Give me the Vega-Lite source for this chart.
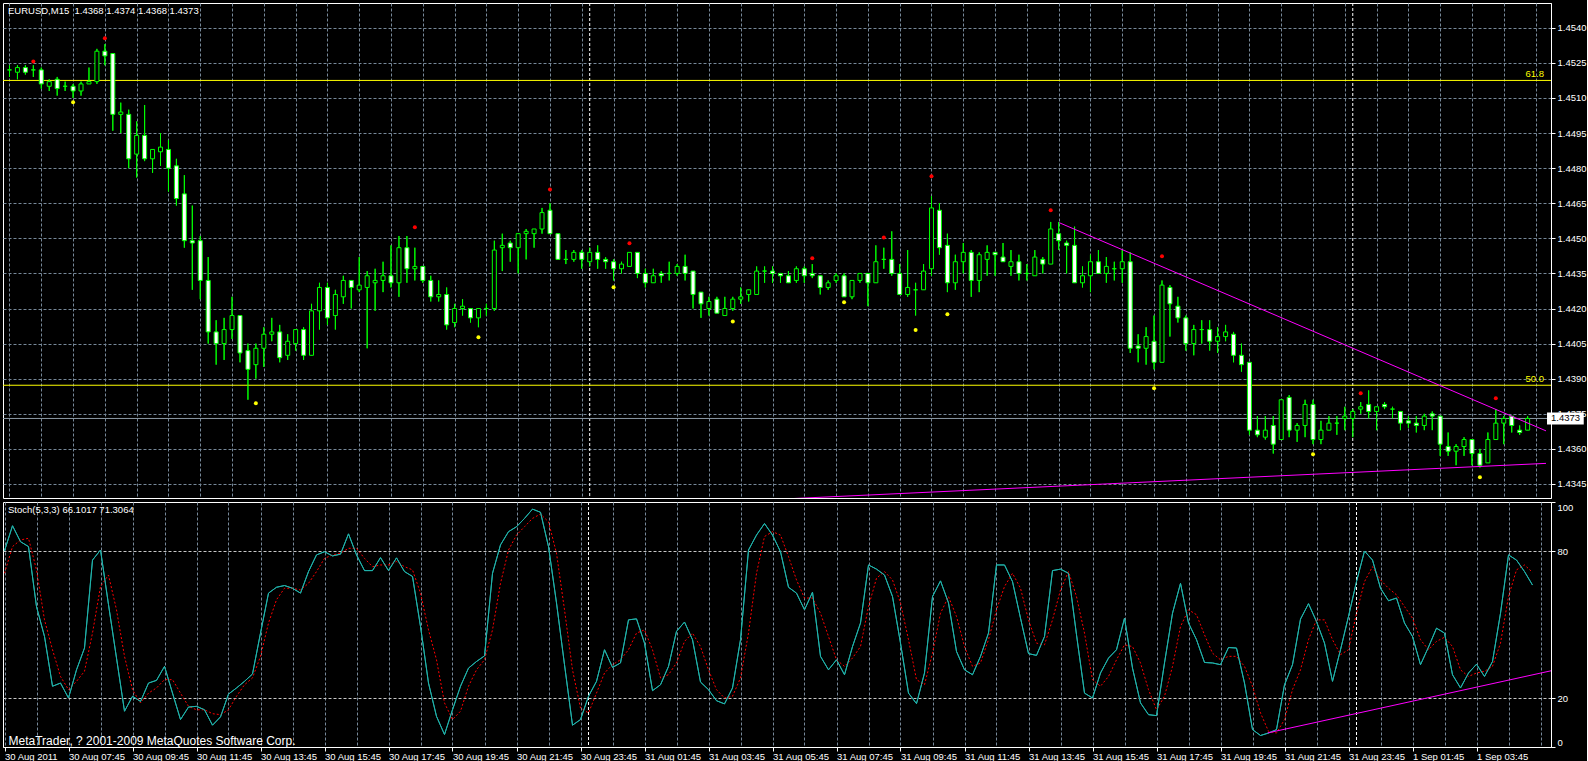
{
  "$schema": "https://vega.github.io/schema/vega-lite/v6.json",
  "background": "#000000",
  "padding": {"left": 2, "top": 2, "right": 0, "bottom": 0},
  "spacing": 2,
  "config": {
    "view": {"stroke": "#ffffff", "strokeWidth": 1},
    "font": "Liberation Sans",
    "axis": {"labelFont": "Liberation Sans", "labelFontSize": 9.5, "labelColor": "#ffffff", "tickColor": "#ffffff", "domainColor": "#ffffff", "titleColor": "#ffffff", "labelOverlap": false}
  },
  "datasets": {
    "seps": [{"i": 73}, {"i": 169}],
    "fib": [{"level": "61.8", "p": 1.45175}, {"level": "50.0", "p": 1.43872}],
    "last": [{"p": 1.4373, "label": "1.4373"}],
    "trend": [
      {"line": "a", "i": 132.06, "p": 1.44567}, {"line": "a", "i": 193.3125, "p": 1.43677},
      {"line": "b", "i": 95, "p": 1.43382}, {"line": "b", "i": 193.3125, "p": 1.43538}
    ],
    "stochTrend": [{"i": 157.9, "v": 5.74}, {"i": 193.3125, "v": 31.1}],
    "fractals": [
      {"kind": "up", "i": 3, "p": 1.45256}, {"kind": "up", "i": 12, "p": 1.45355}, {"kind": "up", "i": 51, "p": 1.44547},
      {"kind": "up", "i": 68, "p": 1.44709}, {"kind": "up", "i": 78, "p": 1.44479}, {"kind": "up", "i": 101, "p": 1.44415},
      {"kind": "up", "i": 110, "p": 1.44504}, {"kind": "up", "i": 116, "p": 1.44765}, {"kind": "up", "i": 131, "p": 1.4462},
      {"kind": "up", "i": 145, "p": 1.44423}, {"kind": "up", "i": 170, "p": 1.43838}, {"kind": "up", "i": 187, "p": 1.43816},
      {"kind": "down", "i": 8, "p": 1.45082}, {"kind": "down", "i": 31, "p": 1.43795}, {"kind": "down", "i": 59, "p": 1.44077},
      {"kind": "down", "i": 76, "p": 1.44291}, {"kind": "down", "i": 91, "p": 1.44145}, {"kind": "down", "i": 105, "p": 1.44227},
      {"kind": "down", "i": 114, "p": 1.44108}, {"kind": "down", "i": 118, "p": 1.44175}, {"kind": "down", "i": 144, "p": 1.43859},
      {"kind": "down", "i": 164, "p": 1.43577}, {"kind": "down", "i": 185, "p": 1.43479}
    ],
    "bars": [
      {"i":0,"o":1.4522,"h":1.4524,"l":1.4519,"c":1.4522,"k":80.1,"d":70.9},
      {"i":1,"o":1.4521,"h":1.4524,"l":1.4518,"c":1.4523,"k":90.3,"d":81.8},
      {"i":2,"o":1.4523,"h":1.4524,"l":1.4520,"c":1.4521,"k":83.8,"d":84.5},
      {"i":3,"o":1.4522,"h":1.4524,"l":1.4519,"c":1.4522,"k":81.8,"d":85.2},
      {"i":4,"o":1.4522,"h":1.4523,"l":1.4514,"c":1.4516,"k":57.3,"d":72.3},
      {"i":5,"o":1.4515,"h":1.4518,"l":1.4513,"c":1.4517,"k":45.1,"d":51.9},
      {"i":6,"o":1.4518,"h":1.4519,"l":1.4511,"c":1.4514,"k":24.8,"d":39.7},
      {"i":7,"o":1.4515,"h":1.4517,"l":1.4513,"c":1.4515,"k":26.1,"d":28.8},
      {"i":8,"o":1.4515,"h":1.4516,"l":1.4510,"c":1.4513,"k":20.0,"d":23.4},
      {"i":9,"o":1.4513,"h":1.4517,"l":1.4511,"c":1.4516,"k":31.5,"d":26.8},
      {"i":10,"o":1.4516,"h":1.4523,"l":1.4516,"c":1.4517,"k":40.4,"d":30.9},
      {"i":11,"o":1.4517,"h":1.4531,"l":1.4516,"c":1.4530,"k":76.3,"d":46.5},
      {"i":12,"o":1.4530,"h":1.4533,"l":1.4524,"c":1.4528,"k":80.4,"d":65.5},
      {"i":13,"o":1.4529,"h":1.4529,"l":1.4496,"c":1.4503,"k":58.1,"d":70.2},
      {"i":14,"o":1.4503,"h":1.4508,"l":1.4495,"c":1.4504,"k":36.3,"d":56.0},
      {"i":15,"o":1.4503,"h":1.4505,"l":1.4480,"c":1.4484,"k":14.6,"d":37.0},
      {"i":16,"o":1.4486,"h":1.4500,"l":1.4476,"c":1.4494,"k":20.7,"d":23.4},
      {"i":17,"o":1.4494,"h":1.4507,"l":1.4483,"c":1.4484,"k":18.6,"d":18.0},
      {"i":18,"o":1.4484,"h":1.4488,"l":1.4478,"c":1.4488,"k":26.1,"d":22.0},
      {"i":19,"o":1.4487,"h":1.4495,"l":1.4481,"c":1.4489,"k":27.2,"d":24.1},
      {"i":20,"o":1.4488,"h":1.4492,"l":1.4470,"c":1.4480,"k":32.9,"d":27.5},
      {"i":21,"o":1.4481,"h":1.4484,"l":1.4464,"c":1.4467,"k":22.0,"d":27.5},
      {"i":22,"o":1.4469,"h":1.4477,"l":1.4446,"c":1.4449,"k":11.2,"d":22.0},
      {"i":23,"o":1.4449,"h":1.4464,"l":1.4428,"c":1.4448,"k":16.3,"d":16.6},
      {"i":24,"o":1.4449,"h":1.4451,"l":1.4424,"c":1.4432,"k":16.6,"d":15.2},
      {"i":25,"o":1.4432,"h":1.4442,"l":1.4405,"c":1.4410,"k":15.2,"d":15.2},
      {"i":26,"o":1.4410,"h":1.4415,"l":1.4396,"c":1.4405,"k":8.9,"d":13.6},
      {"i":27,"o":1.4405,"h":1.4416,"l":1.4398,"c":1.4411,"k":12.3,"d":13.2},
      {"i":28,"o":1.4411,"h":1.4425,"l":1.4407,"c":1.4417,"k":21.6,"d":15.2},
      {"i":29,"o":1.4417,"h":1.4417,"l":1.4397,"c":1.4401,"k":24.1,"d":20.7},
      {"i":30,"o":1.4402,"h":1.4405,"l":1.4381,"c":1.4394,"k":26.8,"d":25.4},
      {"i":31,"o":1.4396,"h":1.4405,"l":1.4390,"c":1.4403,"k":29.8,"d":28.2},
      {"i":32,"o":1.4403,"h":1.4412,"l":1.4395,"c":1.4409,"k":46.5,"d":37.0},
      {"i":33,"o":1.4409,"h":1.4416,"l":1.4406,"c":1.4410,"k":62.8,"d":50.6},
      {"i":34,"o":1.4410,"h":1.4413,"l":1.4397,"c":1.4399,"k":65.2,"d":60.1},
      {"i":35,"o":1.4400,"h":1.4409,"l":1.4398,"c":1.4406,"k":65.9,"d":64.8},
      {"i":36,"o":1.4405,"h":1.4411,"l":1.4402,"c":1.4411,"k":64.8,"d":64.8},
      {"i":37,"o":1.4411,"h":1.4412,"l":1.4398,"c":1.4400,"k":62.8,"d":64.1},
      {"i":38,"o":1.4400,"h":1.4422,"l":1.4400,"c":1.4419,"k":71.6,"d":66.8},
      {"i":39,"o":1.4419,"h":1.4431,"l":1.4411,"c":1.4429,"k":78.4,"d":71.6},
      {"i":40,"o":1.4429,"h":1.4431,"l":1.4413,"c":1.4416,"k":79.7,"d":77.0},
      {"i":41,"o":1.4417,"h":1.4428,"l":1.4411,"c":1.4426,"k":78.0,"d":78.4},
      {"i":42,"o":1.4425,"h":1.4434,"l":1.4422,"c":1.4432,"k":78.7,"d":79.1},
      {"i":43,"o":1.4432,"h":1.4432,"l":1.4420,"c":1.4429,"k":87.0,"d":81.1},
      {"i":44,"o":1.4428,"h":1.4442,"l":1.4427,"c":1.4430,"k":78.4,"d":81.1},
      {"i":45,"o":1.4429,"h":1.4436,"l":1.4403,"c":1.4434,"k":72.0,"d":77.0},
      {"i":46,"o":1.4431,"h":1.4437,"l":1.4419,"c":1.4432,"k":72.0,"d":73.6},
      {"i":47,"o":1.4432,"h":1.4440,"l":1.4427,"c":1.4434,"k":77.3,"d":74.3},
      {"i":48,"o":1.4434,"h":1.4447,"l":1.4429,"c":1.4431,"k":72.0,"d":74.3},
      {"i":49,"o":1.4431,"h":1.4451,"l":1.4425,"c":1.4446,"k":77.2,"d":75.7},
      {"i":50,"o":1.4446,"h":1.4451,"l":1.4431,"c":1.4437,"k":71.6,"d":73.6},
      {"i":51,"o":1.4437,"h":1.4446,"l":1.4432,"c":1.4438,"k":69.6,"d":72.3},
      {"i":52,"o":1.4438,"h":1.4438,"l":1.4431,"c":1.4432,"k":49.2,"d":62.8},
      {"i":53,"o":1.4432,"h":1.4434,"l":1.4423,"c":1.4425,"k":26.1,"d":47.8},
      {"i":54,"o":1.4425,"h":1.4432,"l":1.4423,"c":1.4426,"k":12.5,"d":35.6},
      {"i":55,"o":1.4426,"h":1.4429,"l":1.4411,"c":1.4413,"k":5.1,"d":18.0},
      {"i":56,"o":1.4414,"h":1.4422,"l":1.4412,"c":1.4420,"k":15.2,"d":11.2},
      {"i":57,"o":1.4420,"h":1.4424,"l":1.4417,"c":1.4421,"k":24.8,"d":14.6},
      {"i":58,"o":1.4420,"h":1.4420,"l":1.4414,"c":1.4416,"k":32.2,"d":24.8},
      {"i":59,"o":1.4416,"h":1.4420,"l":1.4412,"c":1.4420,"k":34.9,"d":31.5},
      {"i":60,"o":1.4420,"h":1.4422,"l":1.4417,"c":1.4420,"k":37.2,"d":35.6},
      {"i":61,"o":1.4420,"h":1.4449,"l":1.4419,"c":1.4445,"k":70.9,"d":47.8},
      {"i":62,"o":1.4446,"h":1.4452,"l":1.4436,"c":1.4447,"k":82.5,"d":66.8},
      {"i":63,"o":1.4448,"h":1.4449,"l":1.4440,"c":1.4446,"k":87.9,"d":80.4},
      {"i":64,"o":1.4446,"h":1.4452,"l":1.4435,"c":1.4452,"k":89.9,"d":86.5},
      {"i":65,"o":1.4452,"h":1.4454,"l":1.4441,"c":1.4453,"k":93.3,"d":89.9},
      {"i":66,"o":1.4452,"h":1.4454,"l":1.4446,"c":1.4454,"k":97.1,"d":93.3},
      {"i":67,"o":1.4454,"h":1.4463,"l":1.4452,"c":1.4461,"k":95.8,"d":95.1},
      {"i":68,"o":1.4462,"h":1.4465,"l":1.4452,"c":1.4452,"k":81.8,"d":91.9},
      {"i":69,"o":1.4452,"h":1.4452,"l":1.4441,"c":1.4441,"k":58.8,"d":79.1},
      {"i":70,"o":1.4441,"h":1.4445,"l":1.4439,"c":1.4441,"k":33.6,"d":56.0},
      {"i":71,"o":1.4441,"h":1.4445,"l":1.4440,"c":1.4444,"k":8.9,"d":31.5},
      {"i":72,"o":1.4444,"h":1.4445,"l":1.4437,"c":1.4441,"k":11.2,"d":15.9},
      {"i":73,"o":1.4440,"h":1.4446,"l":1.4438,"c":1.4444,"k":20.7,"d":13.9},
      {"i":74,"o":1.4444,"h":1.4447,"l":1.4437,"c":1.4441,"k":26.8,"d":22.0},
      {"i":75,"o":1.4441,"h":1.4442,"l":1.4437,"c":1.4440,"k":39.7,"d":30.2},
      {"i":76,"o":1.4440,"h":1.4441,"l":1.4432,"c":1.4437,"k":32.5,"d":33.6},
      {"i":77,"o":1.4437,"h":1.4440,"l":1.4435,"c":1.4439,"k":34.3,"d":35.6},
      {"i":78,"o":1.4438,"h":1.4444,"l":1.4438,"c":1.4444,"k":51.9,"d":39.7},
      {"i":79,"o":1.4444,"h":1.4444,"l":1.4433,"c":1.4435,"k":52.3,"d":46.5},
      {"i":80,"o":1.4435,"h":1.4437,"l":1.4429,"c":1.4431,"k":42.4,"d":47.8},
      {"i":81,"o":1.4431,"h":1.4437,"l":1.4431,"c":1.4434,"k":23.0,"d":39.7},
      {"i":82,"o":1.4435,"h":1.4436,"l":1.4431,"c":1.4434,"k":25.4,"d":28.2},
      {"i":83,"o":1.4435,"h":1.4440,"l":1.4432,"c":1.4435,"k":32.9,"d":29.5},
      {"i":84,"o":1.4435,"h":1.4439,"l":1.4434,"c":1.4438,"k":47.2,"d":34.3},
      {"i":85,"o":1.4438,"h":1.4443,"l":1.4432,"c":1.4435,"k":51.0,"d":43.1},
      {"i":86,"o":1.4436,"h":1.4436,"l":1.4420,"c":1.4426,"k":43.8,"d":46.5},
      {"i":87,"o":1.4427,"h":1.4427,"l":1.4416,"c":1.4422,"k":26.5,"d":41.0},
      {"i":88,"o":1.4420,"h":1.4425,"l":1.4417,"c":1.4423,"k":23.4,"d":31.5},
      {"i":89,"o":1.4424,"h":1.4425,"l":1.4418,"c":1.4418,"k":18.9,"d":23.4},
      {"i":90,"o":1.4417,"h":1.4425,"l":1.4417,"c":1.4420,"k":17.6,"d":20.0},
      {"i":91,"o":1.4420,"h":1.4425,"l":1.4419,"c":1.4424,"k":24.1,"d":20.7},
      {"i":92,"o":1.4424,"h":1.4429,"l":1.4422,"c":1.4425,"k":43.8,"d":28.2},
      {"i":93,"o":1.4426,"h":1.4428,"l":1.4423,"c":1.4428,"k":80.4,"d":46.5},
      {"i":94,"o":1.4426,"h":1.4438,"l":1.4426,"c":1.4436,"k":86.5,"d":70.9},
      {"i":95,"o":1.4436,"h":1.4438,"l":1.4431,"c":1.4436,"k":91.2,"d":85.9},
      {"i":96,"o":1.4436,"h":1.4438,"l":1.4431,"c":1.4435,"k":86.5,"d":87.9},
      {"i":97,"o":1.4435,"h":1.4435,"l":1.4431,"c":1.4434,"k":79.7,"d":86.5},
      {"i":98,"o":1.4434,"h":1.4436,"l":1.4431,"c":1.4431,"k":65.2,"d":77.7},
      {"i":99,"o":1.4432,"h":1.4438,"l":1.4431,"c":1.4437,"k":62.8,"d":68.2},
      {"i":100,"o":1.4437,"h":1.4438,"l":1.4431,"c":1.4434,"k":56.0,"d":60.8},
      {"i":101,"o":1.4435,"h":1.4439,"l":1.4433,"c":1.4434,"k":63.2,"d":60.8},
      {"i":102,"o":1.4434,"h":1.4434,"l":1.4426,"c":1.4429,"k":37.0,"d":54.6},
      {"i":103,"o":1.4429,"h":1.4432,"l":1.4428,"c":1.4431,"k":31.5,"d":45.1},
      {"i":104,"o":1.4432,"h":1.4435,"l":1.4431,"c":1.4434,"k":35.6,"d":35.6},
      {"i":105,"o":1.4434,"h":1.4435,"l":1.4425,"c":1.4425,"k":29.5,"d":32.9},
      {"i":106,"o":1.4425,"h":1.4432,"l":1.4424,"c":1.4432,"k":41.0,"d":36.3},
      {"i":107,"o":1.4432,"h":1.4435,"l":1.4431,"c":1.4435,"k":50.6,"d":41.0},
      {"i":108,"o":1.4435,"h":1.4435,"l":1.4421,"c":1.4431,"k":74.3,"d":57.3},
      {"i":109,"o":1.4431,"h":1.4447,"l":1.4431,"c":1.4440,"k":72.6,"d":68.9},
      {"i":110,"o":1.4441,"h":1.4446,"l":1.4437,"c":1.4441,"k":70.2,"d":71.6},
      {"i":111,"o":1.4441,"h":1.4453,"l":1.4434,"c":1.4435,"k":61.4,"d":68.2},
      {"i":112,"o":1.4435,"h":1.4439,"l":1.4426,"c":1.4426,"k":42.4,"d":58.8},
      {"i":113,"o":1.4426,"h":1.4445,"l":1.4425,"c":1.4429,"k":22.0,"d":43.8},
      {"i":114,"o":1.4428,"h":1.4431,"l":1.4417,"c":1.4428,"k":17.7,"d":27.5},
      {"i":115,"o":1.4428,"h":1.4439,"l":1.4428,"c":1.4436,"k":30.2,"d":25.4},
      {"i":116,"o":1.4437,"h":1.4468,"l":1.4434,"c":1.4463,"k":61.4,"d":38.3},
      {"i":117,"o":1.4462,"h":1.4465,"l":1.4443,"c":1.4446,"k":67.8,"d":54.6},
      {"i":118,"o":1.4447,"h":1.4452,"l":1.4427,"c":1.4431,"k":58.8,"d":61.4},
      {"i":119,"o":1.4431,"h":1.4443,"l":1.4428,"c":1.4440,"k":39.0,"d":53.3},
      {"i":120,"o":1.4440,"h":1.4448,"l":1.4435,"c":1.4444,"k":31.5,"d":41.0},
      {"i":121,"o":1.4444,"h":1.4445,"l":1.4425,"c":1.4432,"k":29.5,"d":32.9},
      {"i":122,"o":1.4432,"h":1.4444,"l":1.4427,"c":1.4443,"k":37.0,"d":34.3},
      {"i":123,"o":1.4441,"h":1.4447,"l":1.4434,"c":1.4444,"k":46.5,"d":43.8},
      {"i":124,"o":1.4444,"h":1.4444,"l":1.4434,"c":1.4443,"k":74.3,"d":56.0},
      {"i":125,"o":1.4442,"h":1.4448,"l":1.4440,"c":1.4440,"k":74.3,"d":65.5},
      {"i":126,"o":1.4438,"h":1.4445,"l":1.4434,"c":1.4440,"k":67.5,"d":70.9},
      {"i":127,"o":1.4440,"h":1.4443,"l":1.4432,"c":1.4435,"k":52.6,"d":64.8},
      {"i":128,"o":1.4435,"h":1.4439,"l":1.4432,"c":1.4435,"k":38.1,"d":51.9},
      {"i":129,"o":1.4434,"h":1.4445,"l":1.4434,"c":1.4442,"k":37.4,"d":42.4},
      {"i":130,"o":1.4441,"h":1.4442,"l":1.4435,"c":1.4439,"k":45.1,"d":41.7},
      {"i":131,"o":1.4439,"h":1.4457,"l":1.4439,"c":1.4454,"k":72.0,"d":51.9},
      {"i":132,"o":1.4452,"h":1.4457,"l":1.4445,"c":1.4449,"k":72.6,"d":64.1},
      {"i":133,"o":1.4448,"h":1.4449,"l":1.4435,"c":1.4447,"k":70.9,"d":71.6},
      {"i":134,"o":1.4447,"h":1.4455,"l":1.4431,"c":1.4431,"k":45.8,"d":61.4},
      {"i":135,"o":1.4431,"h":1.4438,"l":1.4429,"c":1.4434,"k":22.0,"d":46.5},
      {"i":136,"o":1.4434,"h":1.4443,"l":1.4427,"c":1.4440,"k":20.0,"d":27.5},
      {"i":137,"o":1.4440,"h":1.4445,"l":1.4435,"c":1.4435,"k":30.2,"d":24.8},
      {"i":138,"o":1.4435,"h":1.4442,"l":1.4431,"c":1.4438,"k":36.3,"d":28.8},
      {"i":139,"o":1.4437,"h":1.4440,"l":1.4432,"c":1.4437,"k":39.7,"d":35.6},
      {"i":140,"o":1.4437,"h":1.4445,"l":1.4431,"c":1.4440,"k":52.6,"d":41.7},
      {"i":141,"o":1.4440,"h":1.4444,"l":1.4401,"c":1.4403,"k":32.2,"d":41.0},
      {"i":142,"o":1.4404,"h":1.4409,"l":1.4397,"c":1.4403,"k":18.0,"d":34.3},
      {"i":143,"o":1.4403,"h":1.4412,"l":1.4396,"c":1.4408,"k":13.2,"d":23.4},
      {"i":144,"o":1.4406,"h":1.4417,"l":1.4394,"c":1.4397,"k":12.8,"d":15.2},
      {"i":145,"o":1.4397,"h":1.4432,"l":1.4397,"c":1.4430,"k":34.3,"d":20.7},
      {"i":146,"o":1.4429,"h":1.4430,"l":1.4408,"c":1.4422,"k":54.6,"d":32.9},
      {"i":147,"o":1.4421,"h":1.4425,"l":1.4414,"c":1.4416,"k":66.8,"d":49.2},
      {"i":148,"o":1.4416,"h":1.4417,"l":1.4402,"c":1.4405,"k":50.6,"d":56.0},
      {"i":149,"o":1.4405,"h":1.4413,"l":1.4400,"c":1.4411,"k":43.8,"d":54.0},
      {"i":150,"o":1.4411,"h":1.4415,"l":1.4405,"c":1.4411,"k":34.5,"d":45.8},
      {"i":151,"o":1.4411,"h":1.4415,"l":1.4402,"c":1.4406,"k":34.3,"d":38.3},
      {"i":152,"o":1.4406,"h":1.4412,"l":1.4401,"c":1.4408,"k":33.6,"d":35.6},
      {"i":153,"o":1.4408,"h":1.4413,"l":1.4406,"c":1.4410,"k":40.6,"d":37.0},
      {"i":154,"o":1.4409,"h":1.4410,"l":1.4397,"c":1.4400,"k":40.4,"d":37.0},
      {"i":155,"o":1.4400,"h":1.4405,"l":1.4393,"c":1.4396,"k":26.1,"d":32.9},
      {"i":156,"o":1.4397,"h":1.4397,"l":1.4366,"c":1.4368,"k":7.1,"d":24.8},
      {"i":157,"o":1.4368,"h":1.4374,"l":1.4365,"c":1.4366,"k":4.7,"d":13.9},
      {"i":158,"o":1.4365,"h":1.4374,"l":1.4364,"c":1.4368,"k":5.7,"d":6.4},
      {"i":159,"o":1.4370,"h":1.4374,"l":1.4358,"c":1.4362,"k":7.1,"d":5.7},
      {"i":160,"o":1.4364,"h":1.4381,"l":1.4364,"c":1.4381,"k":25.4,"d":11.2},
      {"i":161,"o":1.4382,"h":1.4383,"l":1.4365,"c":1.4368,"k":33.6,"d":23.4},
      {"i":162,"o":1.4368,"h":1.4371,"l":1.4363,"c":1.4370,"k":52.2,"d":31.5},
      {"i":163,"o":1.4370,"h":1.4381,"l":1.4365,"c":1.4379,"k":58.5,"d":43.8},
      {"i":164,"o":1.4379,"h":1.4381,"l":1.4362,"c":1.4364,"k":51.2,"d":51.9},
      {"i":165,"o":1.4364,"h":1.4372,"l":1.4362,"c":1.4368,"k":42.4,"d":51.9},
      {"i":166,"o":1.4368,"h":1.4374,"l":1.4368,"c":1.4371,"k":26.8,"d":43.8},
      {"i":167,"o":1.4371,"h":1.4374,"l":1.4366,"c":1.4371,"k":39.7,"d":37.7},
      {"i":168,"o":1.4373,"h":1.4378,"l":1.4368,"c":1.4374,"k":53.3,"d":39.7},
      {"i":169,"o":1.4373,"h":1.4377,"l":1.4365,"c":1.4376,"k":67.5,"d":54.6},
      {"i":170,"o":1.4377,"h":1.4380,"l":1.4375,"c":1.4378,"k":80.0,"d":67.5},
      {"i":171,"o":1.4379,"h":1.4385,"l":1.4373,"c":1.4376,"k":76.3,"d":73.6},
      {"i":172,"o":1.4376,"h":1.4378,"l":1.4368,"c":1.4378,"k":64.8,"d":68.2},
      {"i":173,"o":1.4379,"h":1.4380,"l":1.4377,"c":1.4378,"k":59.7,"d":64.8},
      {"i":174,"o":1.4377,"h":1.4378,"l":1.4373,"c":1.4377,"k":60.8,"d":62.1},
      {"i":175,"o":1.4376,"h":1.4376,"l":1.4368,"c":1.4371,"k":50.6,"d":57.3},
      {"i":176,"o":1.4372,"h":1.4374,"l":1.4369,"c":1.4371,"k":45.1,"d":52.6},
      {"i":177,"o":1.4371,"h":1.4374,"l":1.4367,"c":1.4370,"k":33.6,"d":43.8},
      {"i":178,"o":1.4370,"h":1.4375,"l":1.4368,"c":1.4374,"k":40.8,"d":39.7},
      {"i":179,"o":1.4375,"h":1.4376,"l":1.4368,"c":1.4374,"k":48.5,"d":43.1},
      {"i":180,"o":1.4374,"h":1.4374,"l":1.4357,"c":1.4362,"k":46.5,"d":44.8},
      {"i":181,"o":1.4361,"h":1.4367,"l":1.4357,"c":1.4359,"k":29.5,"d":41.0},
      {"i":182,"o":1.4359,"h":1.4362,"l":1.4353,"c":1.4361,"k":24.1,"d":31.5},
      {"i":183,"o":1.4361,"h":1.4365,"l":1.4357,"c":1.4364,"k":30.2,"d":28.8},
      {"i":184,"o":1.4364,"h":1.4364,"l":1.4353,"c":1.4358,"k":33.8,"d":30.2},
      {"i":185,"o":1.4358,"h":1.4360,"l":1.4352,"c":1.4353,"k":28.8,"d":30.9},
      {"i":186,"o":1.4354,"h":1.4367,"l":1.4354,"c":1.4364,"k":34.9,"d":32.9},
      {"i":187,"o":1.4364,"h":1.4377,"l":1.4364,"c":1.4371,"k":54.6,"d":42.4},
      {"i":188,"o":1.4371,"h":1.4374,"l":1.4362,"c":1.4373,"k":78.4,"d":61.4},
      {"i":189,"o":1.4374,"h":1.4374,"l":1.4367,"c":1.4370,"k":76.3,"d":72.3},
      {"i":190,"o":1.4368,"h":1.4370,"l":1.4366,"c":1.4367,"k":71.6,"d":74.3},
      {"i":191,"o":1.4368,"h":1.4374,"l":1.4368,"c":1.4373,"k":66.1,"d":71.3}
    ]
  },
  "vconcat": [
    {
      "width": 1548,
      "height": 495,
      "title": {"text": "EURUSD,M15\u00a0 1.4368 1.4374 1.4368 1.4373", "anchor": "start", "frame": "group", "offset": -13, "dx": 5, "fontSize": 9.5, "fontWeight": "normal", "color": "#ffffff", "font": "Liberation Sans"},
      "layer": [
        {
          "data": {"name": "bars"},
          "mark": {"type": "rule", "color": "#00ff00", "strokeWidth": 1},
          "encoding": {
            "x": {"field": "i", "type": "quantitative", "scale": {"domain": [-0.1875, 193.3125], "nice": false, "zero": false},
              "axis": {"values": [0,4,8,12,16,20,24,28,32,36,40,44,48,52,56,60,64,68,72,76,80,84,88,92,96,100,104,108,112,116,120,124,128,132,136,140,144,148,152,156,160,164,168,172,176,180,184,188,192], "tickCount": 200, "grid": true, "gridColor": "#778899", "gridDash": [3, 2], "labels": false, "ticks": false, "domain": false, "title": null}},
            "y": {"field": "l", "type": "quantitative", "scale": {"domain": [1.4339, 1.45506], "nice": false, "zero": false},
              "axis": {"orient": "right", "values": [1.4345, 1.436, 1.4375, 1.439, 1.4405, 1.442, 1.4435, 1.445, 1.4465, 1.448, 1.4495, 1.451, 1.4525, 1.454], "tickCount": 100, "format": ".4f", "grid": true, "gridColor": "#778899", "gridDash": [3, 2], "tickSize": 4, "labelPadding": 2, "labelOverlap": false, "domain": true, "title": null}},
            "y2": {"field": "h"}
          }
        },
        {
          "data": {"name": "seps"},
          "mark": {"type": "rule", "color": "#ffffff", "strokeDash": [3, 2], "strokeWidth": 1},
          "encoding": {"x": {"field": "i", "type": "quantitative", "scale": {"domain": [-0.1875, 193.3125], "nice": false, "zero": false}}}
        },
        {
          "data": {"name": "fib"},
          "mark": {"type": "rule", "color": "#ffff00", "strokeWidth": 1},
          "encoding": {"y": {"field": "p", "type": "quantitative", "scale": {"domain": [1.4339, 1.45506], "nice": false, "zero": false}}}
        },
        {
          "data": {"name": "last"},
          "mark": {"type": "rule", "color": "#8c99a6", "strokeWidth": 1},
          "encoding": {"y": {"field": "p", "type": "quantitative", "scale": {"domain": [1.4339, 1.45506], "nice": false, "zero": false}}}
        },
        {
          "data": {"name": "bars"},
          "mark": {"type": "rule", "color": "#00ff00", "strokeWidth": 1},
          "encoding": {
            "x": {"field": "i", "type": "quantitative", "scale": {"domain": [-0.1875, 193.3125], "nice": false, "zero": false}},
            "y": {"field": "l", "type": "quantitative", "scale": {"domain": [1.4339, 1.45506], "nice": false, "zero": false}},
            "y2": {"field": "h"}
          }
        },
        {
          "data": {"name": "bars"},
          "mark": {"type": "bar", "width": 4, "stroke": "#00ff00", "strokeWidth": 1},
          "encoding": {
            "x": {"field": "i", "type": "quantitative", "scale": {"domain": [-0.1875, 193.3125], "nice": false, "zero": false}},
            "y": {"field": "o", "type": "quantitative", "scale": {"domain": [1.4339, 1.45506], "nice": false, "zero": false}},
            "y2": {"field": "c"},
            "fill": {"condition": {"test": "datum.c < datum.o", "value": "#ffffff"}, "value": "#000000"}
          }
        },
        {
          "data": {"name": "trend"},
          "mark": {"type": "line", "color": "#ff00ff", "strokeWidth": 1, "clip": true},
          "encoding": {
            "x": {"field": "i", "type": "quantitative", "scale": {"domain": [-0.1875, 193.3125], "nice": false, "zero": false}},
            "y": {"field": "p", "type": "quantitative", "scale": {"domain": [1.4339, 1.45506], "nice": false, "zero": false}},
            "detail": {"field": "line", "type": "nominal"}
          }
        },
        {
          "data": {"name": "fractals"},
          "mark": {"type": "point", "shape": "circle", "filled": true, "size": 16, "opacity": 1},
          "encoding": {
            "x": {"field": "i", "type": "quantitative", "scale": {"domain": [-0.1875, 193.3125], "nice": false, "zero": false}},
            "y": {"field": "p", "type": "quantitative", "scale": {"domain": [1.4339, 1.45506], "nice": false, "zero": false}},
            "color": {"field": "kind", "type": "nominal", "scale": {"domain": ["up", "down"], "range": ["#ff0000", "#ffff00"]}, "legend": null}
          }
        },
        {
          "data": {"name": "fib"},
          "mark": {"type": "text", "color": "#ffff00", "align": "right", "baseline": "bottom", "dy": -1, "fontSize": 9.5, "font": "Liberation Sans"},
          "encoding": {
            "x": {"datum": 193.06, "type": "quantitative", "scale": {"domain": [-0.1875, 193.3125], "nice": false, "zero": false}},
            "y": {"field": "p", "type": "quantitative", "scale": {"domain": [1.4339, 1.45506], "nice": false, "zero": false}},
            "text": {"field": "level", "type": "nominal"}
          }
        },
        {
          "data": {"name": "last"},
          "mark": {"type": "bar", "fill": "#ffffff", "clip": false},
          "encoding": {
            "x": {"datum": 193.44, "type": "quantitative", "scale": {"domain": [-0.1875, 193.3125], "nice": false, "zero": false}},
            "x2": {"datum": 198.06},
            "y": {"datum": 1.43756, "type": "quantitative", "scale": {"domain": [1.4339, 1.45506], "nice": false, "zero": false}},
            "y2": {"datum": 1.43704}
          }
        },
        {
          "data": {"name": "last"},
          "mark": {"type": "text", "color": "#000000", "align": "left", "baseline": "middle", "fontSize": 9.5, "font": "Liberation Sans"},
          "encoding": {
            "x": {"datum": 193.94, "type": "quantitative", "scale": {"domain": [-0.1875, 193.3125], "nice": false, "zero": false}},
            "y": {"field": "p", "type": "quantitative", "scale": {"domain": [1.4339, 1.45506], "nice": false, "zero": false}},
            "text": {"field": "label", "type": "nominal"}
          }
        }
      ]
    },
    {
      "width": 1548,
      "height": 245,
      "title": {"text": "Stoch(5,3,3) 66.1017 71.3064", "anchor": "start", "frame": "group", "offset": -13, "dx": 5, "fontSize": 9.5, "fontWeight": "normal", "color": "#ffffff", "font": "Liberation Sans"},
      "layer": [
        {
          "data": {"name": "bars"},
          "mark": {"type": "line", "color": "#20b2aa", "strokeWidth": 1},
          "encoding": {
            "x": {"field": "i", "type": "quantitative", "scale": {"domain": [-0.1875, 193.3125], "nice": false, "zero": false},
              "axis": {"values": [0,4,8,12,16,20,24,28,32,36,40,44,48,52,56,60,64,68,72,76,80,84,88,92,96,100,104,108,112,116,120,124,128,132,136,140,144,148,152,156,160,164,168,172,176,180,184,188,192], "tickCount": 200,
                "grid": true, "gridColor": "#778899", "gridDash": [3, 2], "tickSize": 4,
                "tickOpacity": {"condition": {"test": "datum.value % 8 === 0 && datum.value < 192", "value": 1}, "value": 0},
                "labelExpr": "datum.value % 8 !== 0 || datum.value >= 192 ? '' : (datum.value === 0 ? '30 Aug 2011' : timeFormat(datetime(2011, 7, 30, 5, 45 + datum.value * 15), '%-d %b %H:%M'))",
                "labelAlign": "left", "labelFlush": false, "labelOverlap": false, "labelBound": false, "labelPadding": 0, "domain": true,
                "title": "MetaTrader, ? 2001-2009 MetaQuotes Software Corp.", "titleX": 5, "titleY": -3, "titleAlign": "left", "titleAnchor": "start", "titleBaseline": "alphabetic", "titleFontSize": 12, "titleFontWeight": "normal", "titleFont": "Liberation Sans", "titleColor": "#ffffff"}},
            "y": {"field": "k", "type": "quantitative", "scale": {"domain": [0, 100], "nice": false, "zero": false},
              "axis": {"orient": "right", "values": [0, 20, 80, 100], "tickCount": 100, "grid": true, "gridColor": "#c8c8c8", "gridDash": [3, 2],
                "gridOpacity": {"condition": {"test": "datum.value === 20 || datum.value === 80", "value": 1}, "value": 0},
                "labelFlush": true, "labelOverlap": false, "tickSize": 4, "labelPadding": 2, "domain": true, "title": null}}
          }
        },
        {
          "data": {"name": "seps"},
          "mark": {"type": "rule", "color": "#ffffff", "strokeDash": [3, 2], "strokeWidth": 1},
          "encoding": {"x": {"field": "i", "type": "quantitative", "scale": {"domain": [-0.1875, 193.3125], "nice": false, "zero": false}}}
        },
        {
          "data": {"name": "bars"},
          "mark": {"type": "line", "color": "#ff0000", "strokeWidth": 1, "strokeDash": [2, 2]},
          "encoding": {
            "x": {"field": "i", "type": "quantitative", "scale": {"domain": [-0.1875, 193.3125], "nice": false, "zero": false}},
            "y": {"field": "d", "type": "quantitative", "scale": {"domain": [0, 100], "nice": false, "zero": false}}
          }
        },
        {
          "data": {"name": "bars"},
          "mark": {"type": "line", "color": "#20b2aa", "strokeWidth": 1},
          "encoding": {
            "x": {"field": "i", "type": "quantitative", "scale": {"domain": [-0.1875, 193.3125], "nice": false, "zero": false}},
            "y": {"field": "k", "type": "quantitative", "scale": {"domain": [0, 100], "nice": false, "zero": false}}
          }
        },
        {
          "data": {"name": "stochTrend"},
          "mark": {"type": "line", "color": "#ff00ff", "strokeWidth": 1, "clip": true},
          "encoding": {
            "x": {"field": "i", "type": "quantitative", "scale": {"domain": [-0.1875, 193.3125], "nice": false, "zero": false}},
            "y": {"field": "v", "type": "quantitative", "scale": {"domain": [0, 100], "nice": false, "zero": false}}
          }
        }
      ]
    }
  ]
}
